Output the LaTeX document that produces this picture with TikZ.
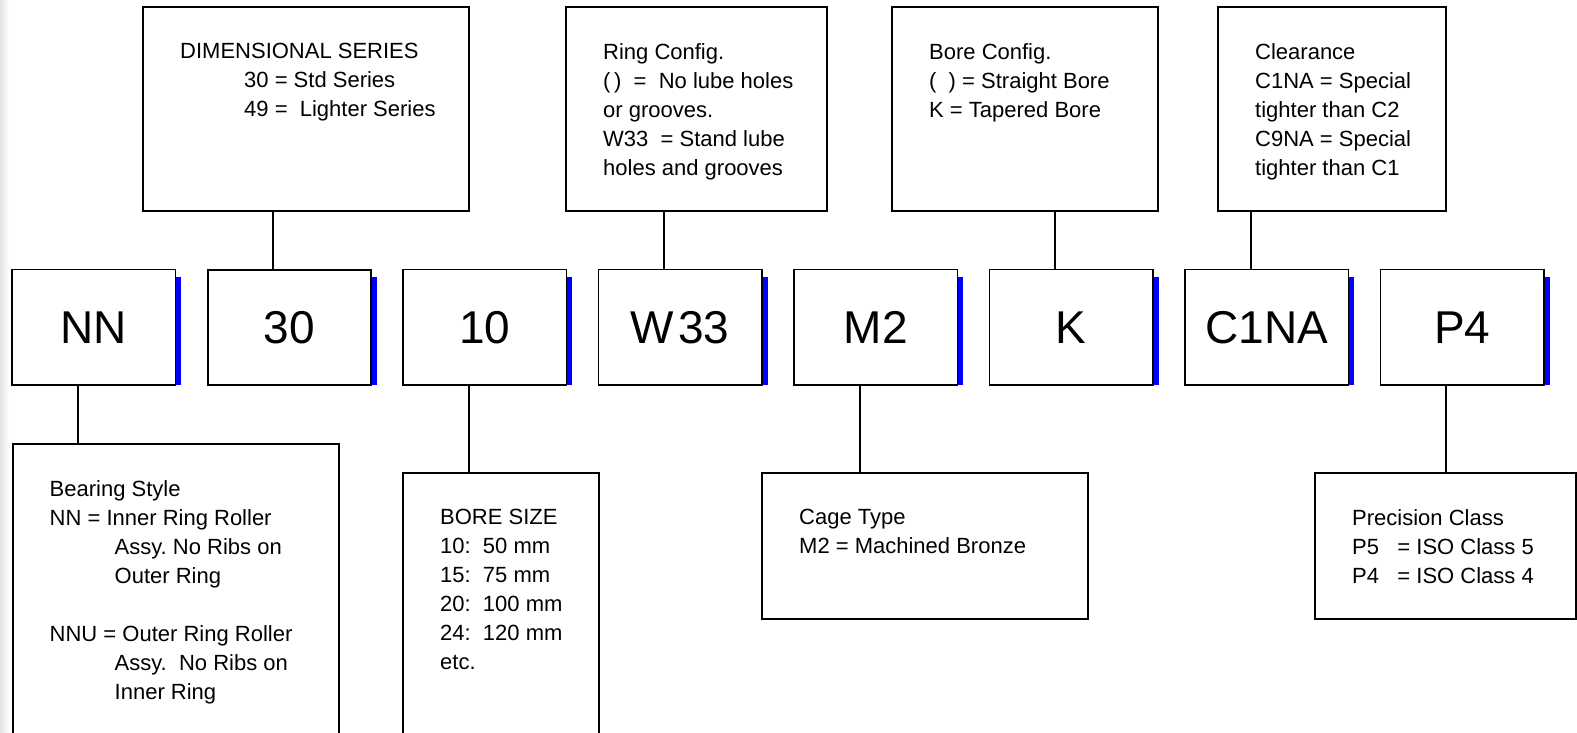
\documentclass[tikz,border=0pt]{standalone}
\usepackage{fontspec}
\setmainfont{Liberation Sans}
\usetikzlibrary{positioning}
\definecolor{sidebarblue}{HTML}{0000FF}
\definecolor{edgegray}{HTML}{E2E2E2}
\frenchspacing
\tikzset{
  legendbox/.style={draw=black, line width=2pt, inner sep=0pt, outer sep=0pt, anchor=north west},
  codebox/.style={draw=black, line width=1.4pt, fill=white, inner sep=0pt, outer sep=0pt,
                  minimum width=163.5pt, minimum height=115.5pt,
                  font=\fontsize{46}{52}\selectfont},
  keytext/.style={inner sep=0pt, align=left, font=\fontsize{22}{29}\selectfont},
  tie/.style={draw=black, line width=2pt},
  sidebar/.style={fill=sidebarblue},
}

\begin{document}
\begin{tikzpicture}[x=1pt, y=-1pt, node distance=32pt]
\useasboundingbox (0,0) rectangle (1577,732);
\clip (0,0) rectangle (1577,732);
\shade[left color=edgegray, right color=white] (0,0) rectangle (9,732);

% designation row
\node[codebox, anchor=north west] (nn) at (12,269.5) {NN};
\node[codebox, right=of nn, line width=2pt] (s30) {30};
\node[codebox, right=of s30] (s10) {10};
\node[codebox, right=of s10] (w33) {W\kern4pt 33};
\node[codebox, right=of w33] (m2) {M2};
\node[codebox, right=of m2] (k) {K};
\node[codebox, right=of k] (c1na) {C1NA};
\node[codebox, right=of c1na] (p4) {P4};

% legends above
\node[legendbox, minimum width=326pt, minimum height=204pt] (dimbox) at (143,7) {};
\node[keytext, below right=36pt and 37pt of dimbox.north west] (dimtxt) {DIMENSIONAL SERIES\\
  \hspace*{64pt}30 = Std Series\\
  \hspace*{64pt}49 =\ \ Lighter Series};
\node[legendbox, minimum width=261pt, minimum height=204pt] (ringbox) at (566,7) {};
\node[keytext, below right=36pt and 37pt of ringbox.north west] (ringtxt) {Ring Config.\\
  (\,)\ \ =\ \ No lube holes\\
  or grooves.\\
  W33\ \ = Stand lube\\
  holes and grooves};
\node[legendbox, minimum width=266pt, minimum height=204pt] (borebox) at (892,7) {};
\node[keytext, below right=36pt and 37pt of borebox.north west] (boretxt) {Bore Config.\\
  (\ \ ) = Straight Bore\\
  K = Tapered Bore};
\node[legendbox, minimum width=228pt, minimum height=204pt] (clearbox) at (1218,7) {};
\node[keytext, below right=36pt and 37pt of clearbox.north west] (cleartxt) {Clearance\\
  C1NA = Special\\
  tighter than C2\\
  C9NA = Special\\
  tighter than C1};

% legends below
\node[legendbox, minimum width=326pt, minimum height=330pt] (stylebox) at (12.5,444) {};
\node[keytext, below right=36pt and 37pt of stylebox.north west] (styletxt) {Bearing Style\\
  NN = Inner Ring Roller\\
  \hspace*{65pt}Assy. No Ribs on\\
  \hspace*{65pt}Outer Ring\\[29pt]
  NNU = Outer Ring Roller\\
  \hspace*{65pt}Assy.\ \ No Ribs on\\
  \hspace*{65pt}Inner Ring};
\node[legendbox, minimum width=196pt, minimum height=300pt] (sizebox) at (403,473) {};
\node[keytext, below right=36pt and 37pt of sizebox.north west] (sizetxt) {BORE SIZE\\
  10:\ \ 50 mm\\
  15:\ \ 75 mm\\
  20:\ \ 100 mm\\
  24:\ \ 120 mm\\
  etc.};
\node[legendbox, minimum width=326pt, minimum height=146pt] (cagebox) at (762,473) {};
\node[keytext, below right=36pt and 37pt of cagebox.north west] (cagetxt) {Cage Type\\
  M2 = Machined Bronze};
\node[legendbox, minimum width=261pt, minimum height=146pt] (precbox) at (1315,473) {};
\node[keytext, below right=36pt and 37pt of precbox.north west] (prectxt) {Precision Class\\
  P5\ \ \ = ISO Class 5\\
  P4\ \ \ = ISO Class 4};

% blue edges
\fill[sidebar] ([xshift=0.7pt, yshift=-7pt]nn.north east) rectangle ([xshift=5.5pt]nn.south east);
\fill[sidebar] ([xshift=1pt, yshift=-7pt]s30.north east) rectangle ([xshift=5.5pt]s30.south east);
\fill[sidebar] ([xshift=0.7pt, yshift=-7pt]s10.north east) rectangle ([xshift=5.5pt]s10.south east);
\fill[sidebar] ([xshift=0.7pt, yshift=-7pt]w33.north east) rectangle ([xshift=5.5pt]w33.south east);
\fill[sidebar] ([xshift=0.7pt, yshift=-7pt]m2.north east) rectangle ([xshift=5.5pt]m2.south east);
\fill[sidebar] ([xshift=0.7pt, yshift=-7pt]k.north east) rectangle ([xshift=5.5pt]k.south east);
\fill[sidebar] ([xshift=0.7pt, yshift=-7pt]c1na.north east) rectangle ([xshift=5.5pt]c1na.south east);
\fill[sidebar] ([xshift=0.7pt, yshift=-7pt]p4.north east) rectangle ([xshift=5.5pt]p4.south east);

% connectors
\draw[tie] ([xshift=-16pt]s30.north) -- ([xshift=-16pt]s30.north |- dimbox.south);
\draw[tie] ([xshift=-16pt]w33.north) -- ([xshift=-16pt]w33.north |- ringbox.south);
\draw[tie] ([xshift=-16pt]k.north) -- ([xshift=-16pt]k.north |- borebox.south);
\draw[tie] ([xshift=-16pt]c1na.north) -- ([xshift=-16pt]c1na.north |- clearbox.south);
\draw[tie] ([xshift=-16pt]nn.south) -- ([xshift=-16pt]nn.south |- stylebox.north);
\draw[tie] ([xshift=-16pt]s10.south) -- ([xshift=-16pt]s10.south |- sizebox.north);
\draw[tie] ([xshift=-16pt]m2.south) -- ([xshift=-16pt]m2.south |- cagebox.north);
\draw[tie] ([xshift=-16pt]p4.south) -- ([xshift=-16pt]p4.south |- precbox.north);
\end{tikzpicture}
\end{document}
